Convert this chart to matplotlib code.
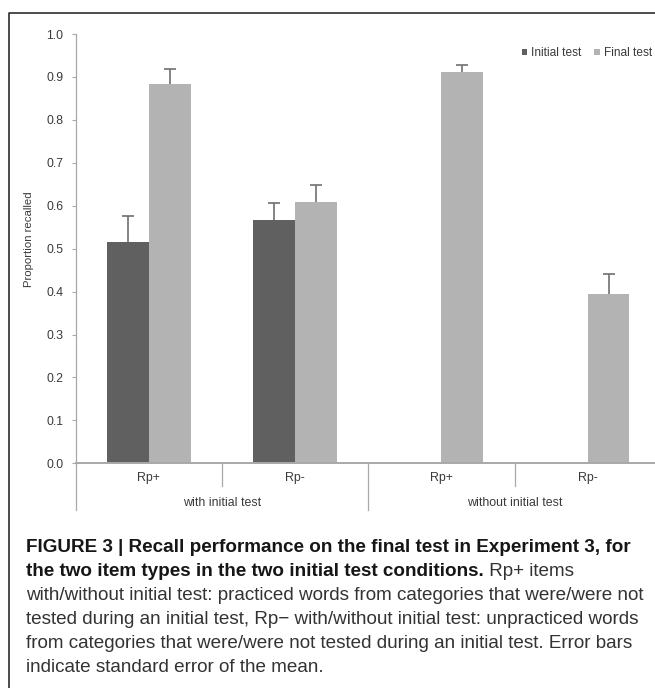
import numpy as np
import matplotlib
matplotlib.use("Agg")
import matplotlib.pyplot as plt
from matplotlib.lines import Line2D
from matplotlib.patches import Patch

plt.rcParams['font.family'] = ['Liberation Sans', 'DejaVu Sans']

# ---- data -------------------------------------------------------------
conditions = ['with initial test', 'without initial test']
item_types = ['Rp+', 'Rp-', 'Rp+', 'Rp-']
initial_mean = [0.516, 0.566, np.nan, np.nan]
initial_se = [0.060, 0.041, np.nan, np.nan]
final_mean = [0.884, 0.608, 0.911, 0.394]
final_se = [0.034, 0.041, 0.016, 0.047]
y_ticks = [0.0, 0.1, 0.2, 0.3, 0.4, 0.5, 0.6, 0.7, 0.8, 0.9, 1.0]
series_names = ['Initial test', 'Final test']

caption_bold_1 = 'FIGURE 3 | Recall performance on the final test in Experiment 3, for'
caption_bold_2 = 'the two item types in the two initial test conditions.'
caption_rest_2 = ' Rp+ items'
caption_lines = [
    'with/without initial test: practiced words from categories that were/were not',
    'tested during an initial test, Rp\u2212 with/without initial test: unpracticed words',
    'from categories that were/were not tested during an initial test. Error bars',
    'indicate standard error of the mean.',
]

# ---- styling ----------------------------------------------------------
C_INIT = '#606060'
C_FINAL = '#b3b3b3'
C_AXIS = '#a8a8a8'
C_TEXT = '#3a3a3a'
C_ERR = '#6f6f6f'
FS = 8.9

W, H = 655, 688
fig = plt.figure(figsize=(W / 100, H / 100), dpi=100)
ax = fig.add_axes([75.7 / W, 1 - 463.3 / H, 585.2 / W, 429.3 / H])

n = len(item_types)
centers = np.arange(n) + 0.5
bw = 0.285

ax.bar(centers - bw / 2, initial_mean, width=bw, color=C_INIT, label=series_names[0], zorder=2)
ax.bar(centers + bw / 2, final_mean, width=bw, color=C_FINAL, label=series_names[1], zorder=2)


def upper_errors(xpos, means, errs):
    """One-sided (upward) error bars with a cap only at the top."""
    means = np.asarray(means, dtype=float)
    errs = np.asarray(errs, dtype=float)
    _, caps, _ = ax.errorbar(xpos, means, yerr=[np.zeros_like(errs), errs], fmt='none',
                             ecolor=C_ERR, elinewidth=1.2, capsize=4, capthick=1.2, zorder=3)
    for cap in caps:
        yd = np.asarray(cap.get_ydata(), dtype=float)
        m = ~np.isnan(yd)
        if np.allclose(yd[m], means[~np.isnan(means)]):
            cap.set_visible(False)


upper_errors(centers - bw / 2, initial_mean, initial_se)
upper_errors(centers + bw / 2, final_mean, final_se)

ax.set_xlim(0, n)
ax.set_ylim(0, 1.0)
ax.set_yticks(y_ticks)
ax.set_yticklabels([f'{v:.1f}' for v in y_ticks])
ax.set_xticks([])
ax.tick_params(axis='y', direction='out', length=3, width=0.8, color=C_AXIS,
               labelsize=8.8, labelcolor=C_TEXT, pad=6)

for side in ('top', 'right'):
    ax.spines[side].set_visible(False)
ax.spines['left'].set_color(C_AXIS)
ax.spines['left'].set_linewidth(0.9)
ax.spines['bottom'].set_color(C_AXIS)
ax.spines['bottom'].set_linewidth(1.4)

ax.set_ylabel('Proportion recalled', fontsize=8.2, color=C_TEXT)
ax.yaxis.set_label_coords(-0.071, 0.521)

# category axis: item labels, group labels and divider lines below the axis
xt = ax.get_xaxis_transform()
px = 1.0 / 429.3
short_drop = -22.4 * px
long_drop = -46.7 * px
for b in range(n + 1):
    drop = long_drop if b % 2 == 0 else short_drop
    ax.plot([b, b], [drop, 0], transform=xt, color=C_AXIS, lw=0.9, clip_on=False)

for c, lab in zip(centers, item_types):
    ax.annotate(lab, xy=(c, 0), xycoords=xt, xytext=(0, -14.8 * 0.72),
                textcoords='offset points', ha='center', va='center',
                fontsize=FS, color=C_TEXT)
for g, lab in enumerate(conditions):
    ax.annotate(lab, xy=(2 * g + 1, 0), xycoords=xt, xytext=(0, -39.6 * 0.72),
                textcoords='offset points', ha='center', va='center',
                fontsize=FS, color=C_TEXT)

# legend
handles = [Patch(facecolor=C_INIT), Patch(facecolor=C_FINAL)]
fig.legend(handles, series_names, loc='center right', bbox_to_anchor=(652 / W, 1 - 53.3 / H),
           ncol=2, frameon=False, fontsize=8.6, handlelength=0.45, handleheight=0.45,
           handletextpad=0.35, columnspacing=1.05, borderpad=0, borderaxespad=0,
           labelcolor=C_TEXT)

# outer frame
fx = 9.3 / W
fy = 1 - 12.7 / H
fig.add_artist(Line2D([fx, fx, 1.02], [-0.02, fy, fy], transform=fig.transFigure,
                      color='#2e2e2e', lw=1.2))

# caption
cap_x = 26 / W
cap_size = 13.6
base0 = 552.3
step = 24.0
C_CAP_B = '#161616'
C_CAP = '#333333'
fig.text(cap_x, 1 - base0 / H, caption_bold_1, fontsize=cap_size, fontweight='bold',
         color=C_CAP_B, va='baseline', ha='left')
t2 = fig.text(cap_x, 1 - (base0 + step) / H, caption_bold_2, fontsize=cap_size,
              fontweight='bold', color=C_CAP_B, va='baseline', ha='left')
renderer = fig.canvas.get_renderer()
bb = t2.get_window_extent(renderer=renderer)
fig.text(bb.x1 / W, 1 - (base0 + step) / H, caption_rest_2, fontsize=cap_size,
         color=C_CAP, va='baseline', ha='left')
for i, line in enumerate(caption_lines):
    fig.text(cap_x, 1 - (base0 + step * (i + 2)) / H, line, fontsize=cap_size,
             color=C_CAP, va='baseline', ha='left')

fig.savefig('out.png', dpi=100)
